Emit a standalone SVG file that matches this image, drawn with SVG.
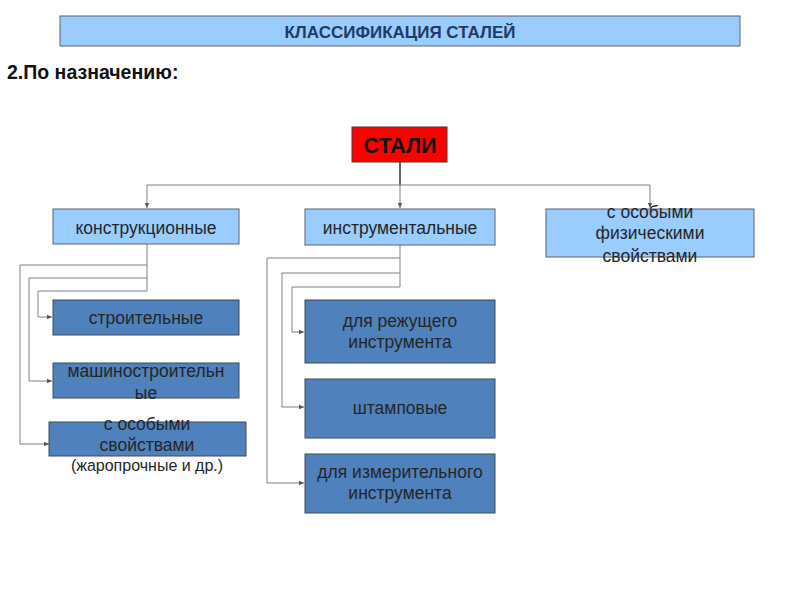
<svg xmlns="http://www.w3.org/2000/svg" width="800" height="600" viewBox="0 0 800 600">
<defs>
<marker id="arr" markerWidth="6" markerHeight="6" refX="5" refY="3" orient="auto" markerUnits="userSpaceOnUse">
<path d="M0,0.8 L5,3 L0,5.2 Z" fill="#555"/>
</marker>
<style>
.lb{fill:#99CCFF;stroke:#5a6470;stroke-width:1}
.db{fill:#4F81BD;stroke:#3a4a5e;stroke-width:1}
.t{font-family:"Liberation Sans",Arial,sans-serif;font-size:17.5px;text-anchor:middle;fill:#262626}
.c{fill:none;stroke:#808080;stroke-width:1}
</style>
</defs>
<rect width="800" height="600" fill="#fff"/>
<g id="title">
<rect x="60" y="16" width="680" height="30" class="lb"/>
<text x="400" y="37.5" style="font-family:'Liberation Sans',Arial,sans-serif;font-size:17px;font-weight:bold;fill:#1F3B63" text-anchor="middle">КЛАССИФИКАЦИЯ СТАЛЕЙ</text>
</g>
<text x="7" y="79" style="font-family:'Liberation Sans',Arial,sans-serif;font-size:19.5px;font-weight:bold;fill:#111">2.По назначению:</text>
<g id="connectors">
<path d="M400,162 V185" fill="none" stroke="#333" stroke-width="1.5"/>
<path class="c" d="M147,185 H650"/>
<path class="c" d="M147,185 V208" marker-end="url(#arr)"/>
<path class="c" d="M400,185 V208" marker-end="url(#arr)"/>
<path class="c" d="M650,185 V208" marker-end="url(#arr)"/>
<path class="c" d="M147,244 V291 H38 V317 H52" marker-end="url(#arr)"/>
<path class="c" d="M147,278 H29 V381 H52" marker-end="url(#arr)"/>
<path class="c" d="M147,265 H20 V444 H49" marker-end="url(#arr)"/>
<path class="c" d="M400,245 V287 H292 V332 H304" marker-end="url(#arr)"/>
<path class="c" d="M400,273 H282 V407 H304" marker-end="url(#arr)"/>
<path class="c" d="M400,258 H267 V483 H304" marker-end="url(#arr)"/>
</g>
<g id="stali">
<rect x="352" y="127" width="95" height="35" fill="#FF0000" stroke="#5a3030" stroke-width="1"/>
<text x="400" y="152.5" style="font-family:'Liberation Sans',Arial,sans-serif;font-size:21.5px;font-weight:bold;fill:#111" text-anchor="middle">СТАЛИ</text>
</g>
<g id="konstr">
<rect x="53" y="209" width="186" height="35" class="lb"/>
<text x="146" y="234" class="t">конструкционные</text>
</g>
<g id="instr">
<rect x="305" y="209" width="190" height="36" class="lb"/>
<text x="400" y="233.5" class="t">инструментальные</text>
</g>
<g id="osobye-fiz">
<rect x="546" y="209" width="208" height="48" class="lb"/>
<text x="650" y="218" class="t">с особыми</text>
<text x="650" y="239" class="t">физическими</text>
<text x="650" y="262" class="t">свойствами</text>
</g>
<g id="stroit">
<rect x="53" y="300" width="186" height="35" class="db"/>
<text x="146" y="323.5" class="t">строительные</text>
</g>
<g id="mash">
<rect x="53" y="363" width="186" height="35" class="db"/>
<text x="146" y="376.5" class="t">машиностроительн</text>
<text x="146" y="398.5" class="t">ые</text>
</g>
<g id="osobye">
<rect x="49" y="422" width="197" height="34" class="db"/>
<text x="147" y="430" class="t">с особыми</text>
<text x="147" y="451" class="t">свойствами</text>
<text x="147" y="471" class="t" style="font-size:16px">(жаропрочные и др.)</text>
</g>
<g id="rezh">
<rect x="305" y="300" width="190" height="63" class="db"/>
<text x="400" y="326.5" class="t">для режущего</text>
<text x="400" y="347.5" class="t">инструмента</text>
</g>
<g id="shtamp">
<rect x="305" y="379" width="190" height="59" class="db"/>
<text x="400" y="413.5" class="t">штамповые</text>
</g>
<g id="izmer">
<rect x="305" y="454" width="190" height="59" class="db"/>
<text x="400" y="477.5" class="t">для измерительного</text>
<text x="400" y="498.5" class="t">инструмента</text>
</g>
</svg>
